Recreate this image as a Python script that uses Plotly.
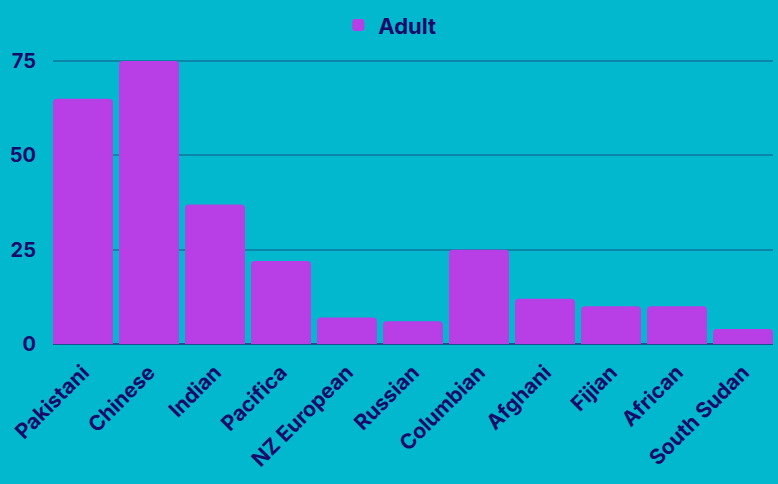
import plotly.graph_objects as go

categories = ["Pakistani", "Chinese", "Indian", "Pacifica", "NZ European", "Russian",
              "Columbian", "Afghani", "Fijian", "African", "South Sudan"]
adult = [65, 75, 37, 22, 7, 6, 25, 12, 10, 10, 4]
y_ticks = [0, 25, 50, 75]

BG = "#02B8CF"
BAR = "#B83FE6"
TEXT = "#170B6A"
FONT = "Inter"

# bars fill the plot edge to edge: only the inner gaps are kept
GAP = 6 / 66

fig = go.Figure(
    go.Bar(
        x=categories,
        y=adult,
        name="Adult",
        marker=dict(color=BAR, cornerradius=4, line=dict(width=0)),
        showlegend=True,
    )
)

fig.update_layout(
    width=778,
    height=484,
    paper_bgcolor=BG,
    plot_bgcolor=BG,
    margin=dict(l=53, r=5, t=55, b=140, autoexpand=False),
    bargap=GAP,
    font=dict(family=FONT, color=TEXT, size=19),
    legend=dict(
        orientation="h",
        x=0.501,
        xref="container",
        xanchor="center",
        y=0.948,
        yanchor="middle",
        yref="container",
        font=dict(family=FONT, size=22, color=TEXT, weight="bold"),
    ),
)

fig.update_xaxes(
    range=[-0.5 + GAP / 2, len(categories) - 0.5 - GAP / 2],
    tickangle=-45,
    tickfont=dict(family=FONT, size=21, color=TEXT, weight="bold"),
    showgrid=False,
    showline=False,
    ticks="",
    ticklabelstandoff=11,
)
fig.update_yaxes(
    range=[0, 76.6],
    tickvals=y_ticks,
    tickfont=dict(family=FONT, size=20, color=TEXT, weight="bold"),
    showgrid=True,
    gridcolor="#0C86A8",
    gridwidth=1.5,
    zeroline=True,
    zerolinecolor="#1E4E8C",
    zerolinewidth=2,
    ticks="",
    ticklabelstandoff=16,
)

fig.write_html("out.html")
